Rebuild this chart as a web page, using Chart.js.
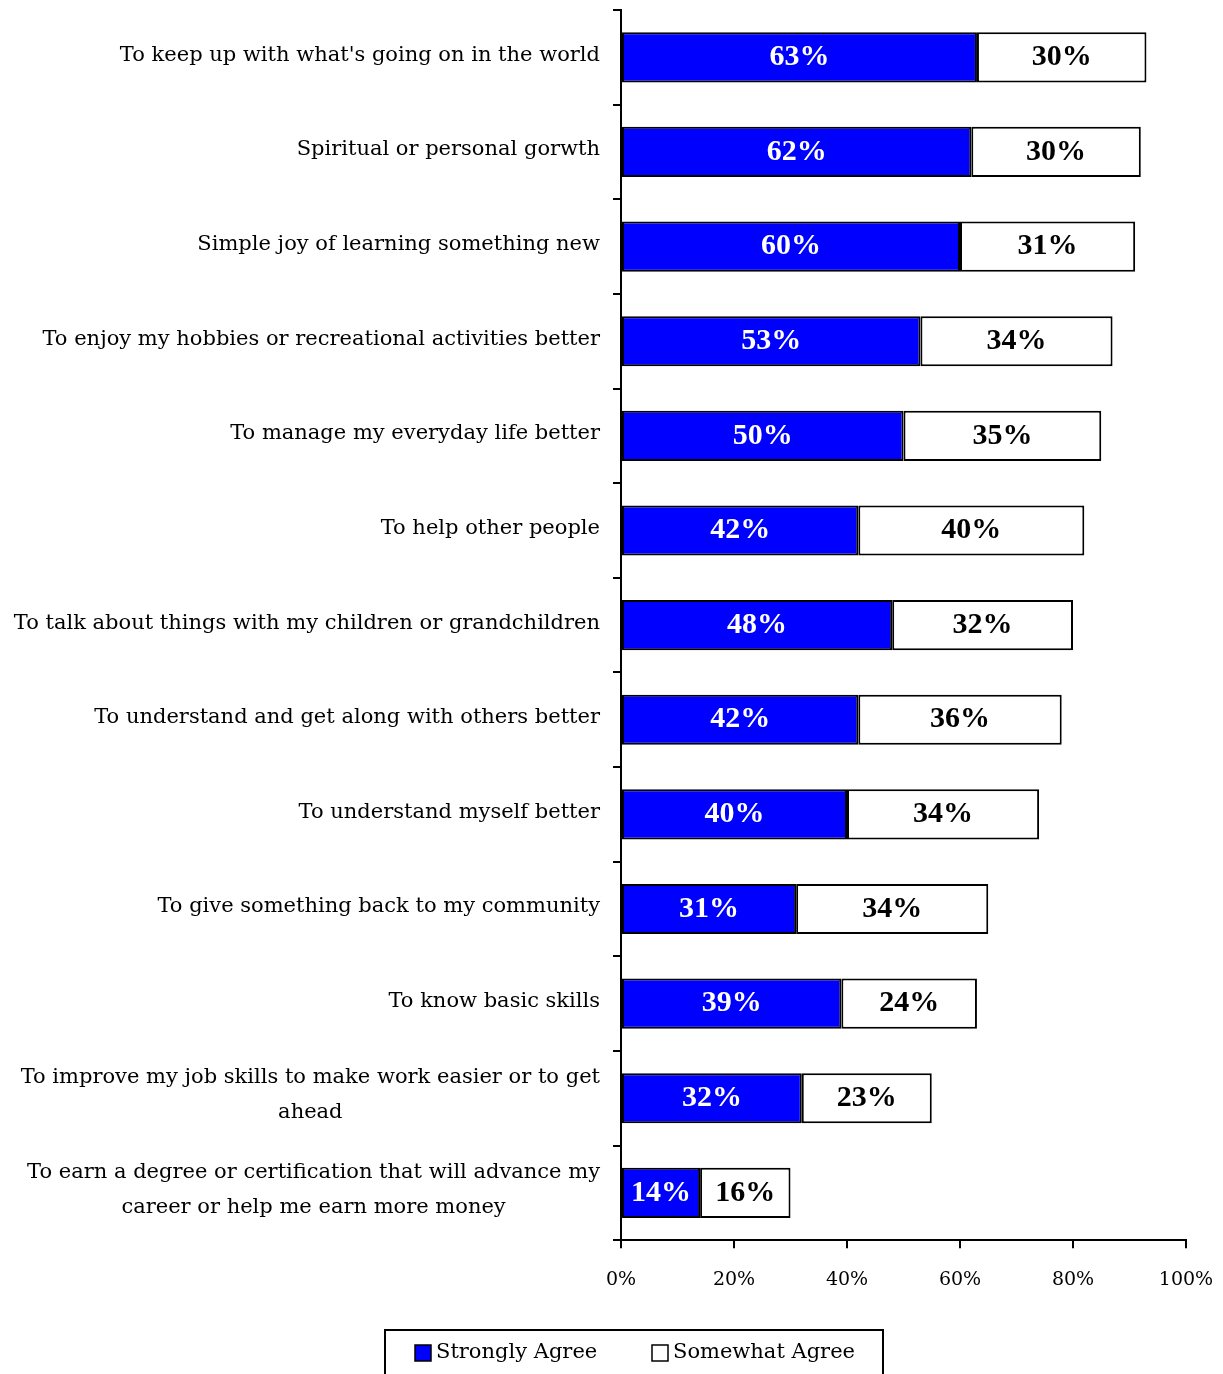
<!DOCTYPE html>
<html>
<head>
<meta charset="utf-8">
<script src="https://cdn.jsdelivr.net/npm/chart.js@4"></script>
<style>
  body { margin: 0; background: #fff; }
  canvas { display: block; }
</style>
</head>
<body>
<canvas id="reasonsChart" width="1223" height="1374"></canvas>
<script>
const reasons = [
    ["To keep up with what's going on in the world"],
    ["Spiritual or personal gorwth"],
    ["Simple joy of learning something new"],
    ["To enjoy my hobbies or recreational activities better"],
    ["To manage my everyday life better"],
    ["To help other people"],
    ["To talk about things with my children or grandchildren"],
    ["To understand and get along with others better"],
    ["To understand myself better"],
    ["To give something back to my community"],
    ["To know basic skills"],
    ["To improve my job skills to make work easier or to get", "ahead"],
    ["To earn a degree or certification that will advance my", "career or help me earn more money"]
];
const stronglyAgree = [63, 62, 60, 53, 50, 42, 48, 42, 40, 31, 39, 32, 14];
const somewhatAgree = [30, 30, 31, 34, 35, 40, 32, 36, 34, 34, 24, 23, 16];
const xTicks = [0, 20, 40, 60, 80, 100];

const serif = "'DejaVu Serif', 'Liberation Serif', serif";
const boldSerif = "'Liberation Serif', serif";

// category labels, right aligned; wrapped lines centred on each other
const categoryLabels = {
    id: "categoryLabels",
    afterDraw(chart) {
        const ctx = chart.ctx;
        const yScale = chart.scales.y;
        const right = 600;
        const lineH = 35;
        ctx.save();
        ctx.font = "21px " + serif;
        ctx.fillStyle = "#000";
        ctx.textBaseline = "middle";
        reasons.forEach((lines, i) => {
            const y = yScale.getPixelForValue(i);
            if (lines.length === 1) {
                ctx.textAlign = "right";
                ctx.fillText(lines[0], right, y - 2);
                return;
            }
            const w = Math.max(...lines.map(l => ctx.measureText(l).width));
            const cx = right - w / 2;
            ctx.textAlign = "center";
            const top = y - (lines.length - 1) * lineH / 2 - 3;
            lines.forEach((l, k) => ctx.fillText(l, cx, top + k * lineH));
        });
        ctx.restore();
    }
};

// percentage labels inside each bar segment
const valueLabels = {
    id: "valueLabels",
    afterDatasetsDraw(chart) {
        const ctx = chart.ctx;
        ctx.save();
        ctx.font = "bold 30px " + boldSerif;
        ctx.textAlign = "center";
        ctx.textBaseline = "middle";
        chart.data.datasets.forEach((ds, d) => {
            ctx.fillStyle = d === 0 ? "#fff" : "#000";
            chart.getDatasetMeta(d).data.forEach((bar, i) => {
                const x = (bar.x + bar.base) / 2;
                ctx.fillText(ds.data[i] + "%", x, bar.y);
            });
        });
        ctx.restore();
    }
};

// boxed legend under the axis
const boxLegend = {
    id: "boxLegend",
    afterDraw(chart) {
        const ctx = chart.ctx;
        ctx.save();
        ctx.lineWidth = 2;
        ctx.strokeStyle = "#000";
        ctx.strokeRect(385, 1330, 498, 60);
        ctx.font = "21px " + serif;
        ctx.textAlign = "left";
        ctx.textBaseline = "middle";
        let x = 415;
        chart.data.datasets.forEach(ds => {
            ctx.fillStyle = ds.backgroundColor;
            ctx.fillRect(x, 1345, 16, 16);
            ctx.lineWidth = 1.5;
            ctx.strokeRect(x, 1345, 16, 16);
            ctx.fillStyle = "#000";
            ctx.fillText(ds.label, x + 21, 1353);
            x = 652;
        });
        ctx.restore();
    }
};

new Chart(document.getElementById("reasonsChart"), {
    type: "bar",
    data: {
        labels: reasons,
        datasets: [
            {
                label: "Strongly Agree",
                data: stronglyAgree,
                backgroundColor: "#0000ff",
                borderColor: "#000",
                borderWidth: 2,
                borderSkipped: false
            },
            {
                label: "Somewhat Agree",
                data: somewhatAgree,
                backgroundColor: "#ffffff",
                borderColor: "#000",
                borderWidth: 2,
                borderSkipped: false
            }
        ]
    },
    options: {
        indexAxis: "y",
        responsive: false,
        animation: false,
        layout: { padding: { top: 10, right: 37, bottom: 63, left: 0 } },
        datasets: { bar: { categoryPercentage: 1, barPercentage: 0.53 } },
        plugins: {
            legend: { display: false },
            tooltip: { enabled: false }
        },
        scales: {
            x: {
                stacked: true,
                min: 0,
                max: 100,
                afterBuildTicks(scale) {
                    scale.ticks = xTicks.map(v => ({ value: v }));
                },
                // let the end labels hang past the plot edge
                afterFit(scale) {
                    scale.paddingLeft = 0;
                    scale.paddingRight = 0;
                },
                ticks: {
                    callback: v => v + "%",
                    color: "#000",
                    font: { family: serif, size: 19 },
                    padding: 20,
                    maxRotation: 0
                },
                grid: { drawOnChartArea: false, drawTicks: true, tickLength: 8, color: "#000", lineWidth: 2 },
                border: { display: true, color: "#000", width: 2 }
            },
            y: {
                stacked: true,
                afterFit(scale) { scale.width = 621; },
                ticks: { display: false },
                grid: { offset: true, drawOnChartArea: false, drawTicks: true, tickLength: 8, color: "#000", lineWidth: 2 },
                border: { display: true, color: "#000", width: 2 }
            }
        }
    },
    plugins: [categoryLabels, valueLabels, boxLegend]
});
</script>
</body>
</html>
